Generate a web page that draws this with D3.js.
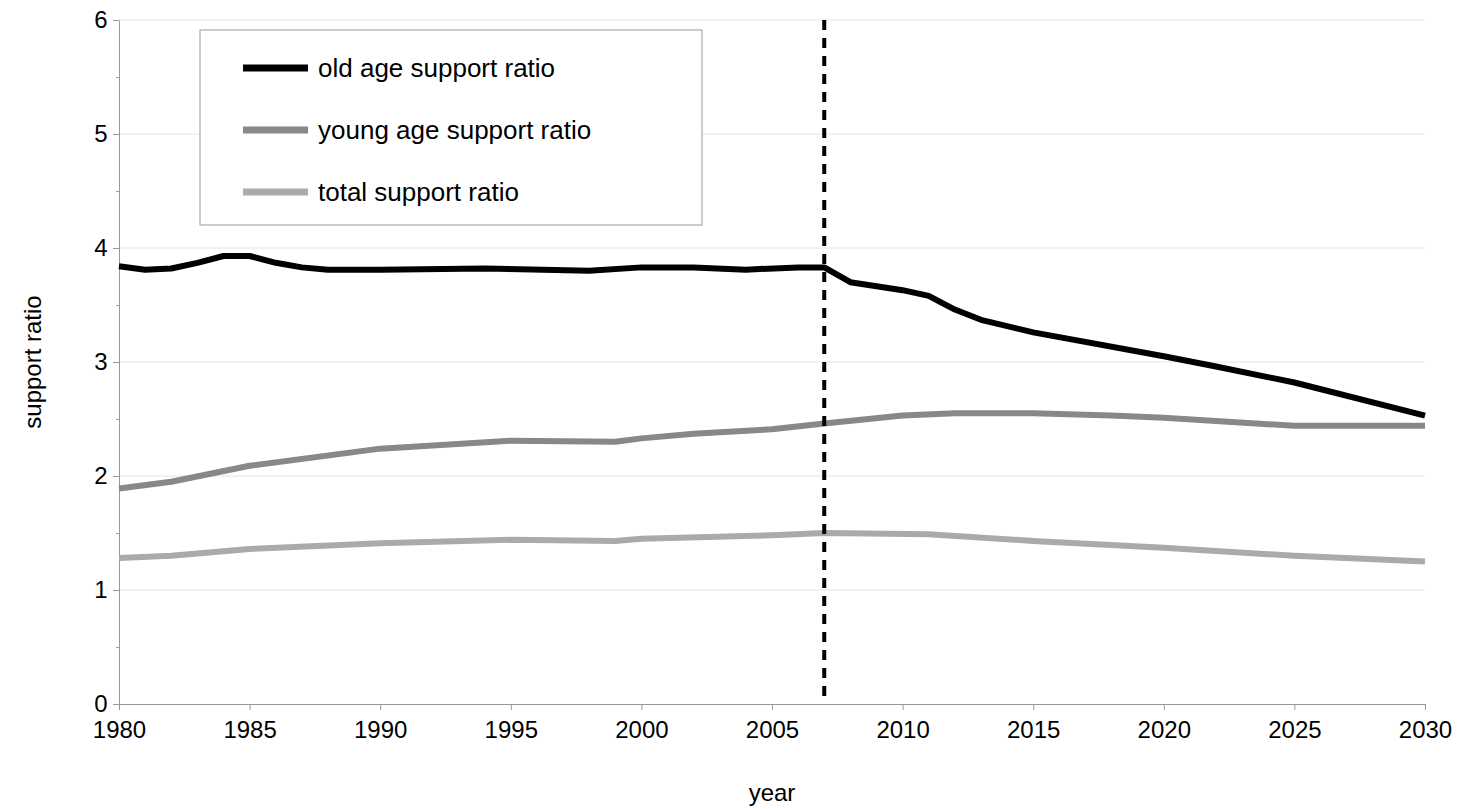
<!DOCTYPE html>
<html><head><meta charset="utf-8">
<script src="https://cdn.jsdelivr.net/npm/d3@7"></script>
<style>body{margin:0;background:#fff}svg{font-family:Arial,"Liberation Sans",sans-serif}</style>
</head><body><svg id="c" width="1468" height="809"></svg>
<script>
var oldYears = [1980,1981,1982,1983,1984,1985,1986,1987,1988,1990,1994,1998,2000,2002,2004,2006,2007,2008,2010,2011,2012,2013,2015,2020,2022,2025,2030];
var oldVals  = [3.84,3.81,3.82,3.87,3.93,3.93,3.87,3.83,3.81,3.81,3.82,3.80,3.83,3.83,3.81,3.83,3.83,3.70,3.63,3.58,3.46,3.37,3.26,3.05,2.96,2.82,2.53];
var youngYears = [1980,1982,1985,1990,1995,1999,2000,2002,2005,2007,2010,2012,2015,2018,2020,2025,2030];
var youngVals  = [1.89,1.95,2.09,2.24,2.31,2.30,2.33,2.37,2.41,2.46,2.53,2.55,2.55,2.53,2.51,2.44,2.44];
var totalYears = [1980,1982,1985,1990,1995,1999,2000,2005,2007,2011,2015,2020,2025,2030];
var totalVals  = [1.28,1.30,1.36,1.41,1.44,1.43,1.45,1.48,1.50,1.49,1.43,1.37,1.30,1.25];
var legendLabels = ["old age support ratio","young age support ratio","total support ratio"];
var colors = ["#000000","#888888","#aaaaaa"];

var svg = d3.select("#c");
var x = d3.scaleLinear().domain([1980,2030]).range([119,1425]);
var y = d3.scaleLinear().domain([0,6]).range([704,20]);

// gridlines
svg.append("g").selectAll("line").data(d3.range(1,7)).join("line")
  .attr("x1",119).attr("x2",1425).attr("y1",d=>y(d)).attr("y2",d=>y(d))
  .attr("stroke","#e4e4e4").attr("stroke-width",1);

var xa = svg.append("g").attr("transform","translate(0,704)")
  .call(d3.axisBottom(x).tickValues(d3.range(1980,2031,5)).tickFormat(d3.format("d")).tickSize(6).tickSizeOuter(0));
var ya = svg.append("g").attr("transform","translate(119,0)")
  .call(d3.axisLeft(y).tickValues(d3.range(0,6.01,0.5)).tickFormat(d=>d%1===0?d:"").tickSize(6).tickSizeOuter(0));
[xa,ya].forEach(function(a){
  a.attr("font-size",null);
  a.selectAll("path,line").attr("stroke","#999");
  a.selectAll("text").attr("fill","#000").style("font-size","24px");
});
xa.selectAll("text").attr("dy","1.05em");
ya.selectAll("text").attr("dx","-0.1em");
ya.selectAll(".tick line").attr("x2",d=>d%1===0?-6:-3);

svg.append("text").attr("x",772).attr("y",801).attr("text-anchor","middle").style("font-size","24px").text("year");
svg.append("text").attr("transform","translate(41,362) rotate(-90)").attr("text-anchor","middle").style("font-size","24px").text("support ratio");

var line = d3.line().x(d=>x(d[0])).y(d=>y(d[1]));
[[oldYears,oldVals],[youngYears,youngVals],[totalYears,totalVals]].reverse().forEach(function(s,i){
  svg.append("path").datum(d3.zip(s[0],s[1])).attr("d",line)
    .attr("fill","none").attr("stroke",colors[2-i]).attr("stroke-width",6).attr("stroke-linejoin","round");
});

svg.append("line").attr("x1",x(2007)).attr("x2",x(2007)).attr("y1",20).attr("y2",704)
  .attr("stroke","#000").attr("stroke-width",4).attr("stroke-dasharray","10,8");

var lg = svg.append("g");
lg.append("rect").attr("x",200).attr("y",30).attr("width",502).attr("height",195).attr("fill","#fff").attr("stroke","#999");
legendLabels.forEach(function(t,i){
  var yy = 68 + i*62;
  lg.append("line").attr("x1",243).attr("x2",308).attr("y1",yy).attr("y2",yy).attr("stroke",colors[i]).attr("stroke-width",7);
  lg.append("text").attr("x",318).attr("y",yy+9).style("font-size","26px").text(t);
});
</script></body></html>
